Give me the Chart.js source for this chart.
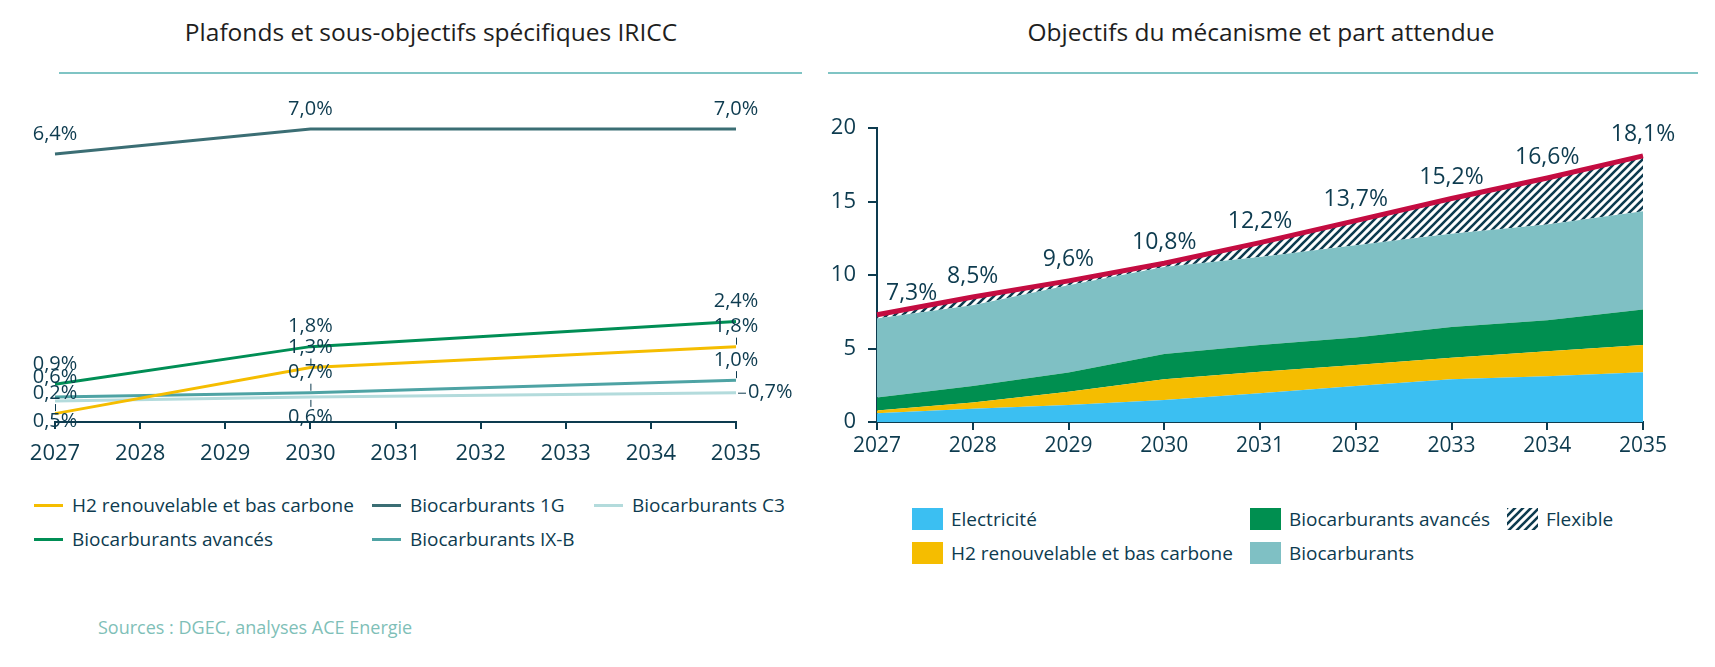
<!DOCTYPE html>
<html lang="fr">
<head>
<meta charset="utf-8">
<title>Plafonds IRICC et objectifs du mécanisme</title>
<script src="https://cdn.jsdelivr.net/npm/chart.js@4.4.1/dist/chart.umd.min.js"></script>
<style>
    html, body { margin: 0; padding: 0; background: #fff; }
    body {
        width: 1715px; height: 667px; position: relative; overflow: hidden;
        font-family: "Open Sans", sans-serif; color: #0d3b4f;
    }
    .title {
        position: absolute; top: 17px; line-height: 30px;
        font-size: 24.5px; color: #1e1e1e; text-align: center;
    }
    .rule { position: absolute; top: 72px; height: 2px; background: #7fc4c4; }
    .chart-box { position: absolute; top: 90px; height: 380px; }
    .legend-item {
        position: absolute; display: flex; align-items: center;
        white-space: nowrap; font-size: 19px; line-height: 22px;
        transform: translateY(-50%);
    }
    .legend-item canvas { display: block; }
    .source {
        position: absolute; left: 98px; top: 615px; line-height: 24px;
        font-size: 18px; color: #7fbfb8;
    }
</style>
</head>
<body>

<div class="title" style="left:0; width:862px;">Plafonds et sous-objectifs spécifiques IRICC</div>
<div class="rule" style="left:59px; width:743px;"></div>
<div class="title" style="left:828px; width:866px;">Objectifs du mécanisme et part attendue</div>
<div class="rule" style="left:828px; width:870px;"></div>

<div class="chart-box" style="left:0; width:800px;"><canvas id="left-chart" width="800" height="380"></canvas></div>
<div class="chart-box" style="left:800px; width:900px;"><canvas id="right-chart" width="900" height="380"></canvas></div>

<div id="left-legend"></div>
<div id="right-legend"></div>

<div class="source">Sources : DGEC, analyses ACE Energie</div>

<script>
// --- Données ---
const YEARS = ['2027', '2028', '2029', '2030', '2031', '2032', '2033', '2034', '2035'];

// Graphique de gauche (%) : valeurs connues aux années clés, segments droits entre elles
const H2_CAP  = [0.2, null, null, 1.3, null, null, null, null, 1.8];
const BIO_1G  = [6.4, null, null, 7.0, null, null, null, null, 7.0];
const BIO_C3  = [0.5, null, null, 0.6, null, null, null, null, 0.7];
const BIO_ADV = [0.9, null, null, 1.8, null, null, null, null, 2.4];
const BIO_IXB = [0.6, null, null, 0.7, null, null, null, null, 1.0];

// Graphique de droite : parts empilées
const ELEC  = [0.60, 0.90, 1.15, 1.50, 1.95, 2.45, 2.90, 3.12, 3.38];
const H2    = [0.18, 0.43, 0.90, 1.40, 1.47, 1.42, 1.47, 1.70, 1.85];
const ADV   = [0.88, 1.12, 1.32, 1.72, 1.81, 1.88, 2.10, 2.10, 2.43];
const BIO   = [5.38, 5.50, 5.93, 5.93, 6.00, 6.27, 6.34, 6.52, 6.67];
const FLEX  = [0.26, 0.55, 0.30, 0.25, 0.97, 1.68, 2.39, 3.16, 3.77];
const TOTAL = [7.3, 8.5, 9.6, 10.8, 12.2, 13.7, 15.2, 16.6, 18.1];

const RIGHT_Y_MAX = 20;
const RIGHT_Y_STEP = 5;

// --- Styles ---
const DARK = '#0d3b4f';
const FONT = '"Open Sans", sans-serif';

const fmt = (v) => v.toFixed(1).replace('.', ',') + '%';

// Motif hachuré pour "Flexible"
const makeHatch = (ctx) => {
    const tile = document.createElement('canvas');
    tile.width = 8;
    tile.height = 8;
    const t = tile.getContext('2d');
    t.fillStyle = '#fff';
    t.fillRect(0, 0, 8, 8);
    t.strokeStyle = DARK;
    t.lineWidth = 2.6;
    t.beginPath();
    t.moveTo(0, 8); t.lineTo(8, 0);
    t.moveTo(-4, 4); t.lineTo(4, -4);
    t.moveTo(4, 12); t.lineTo(12, 4);
    t.stroke();
    return ctx.createPattern(tile, 'repeat');
};

// Étiquettes du graphique de gauche (position au-dessus / en dessous / à droite)
const leftLabels = {
    id: 'leftLabels',
    afterDatasetsDraw(chart) {
        const { ctx } = chart;
        ctx.save();
        ctx.font = '20px ' + FONT;
        ctx.fillStyle = DARK;
        ctx.strokeStyle = DARK;
        ctx.lineWidth = 1;
        ctx.textBaseline = 'middle';
        chart.data.datasets.forEach((ds, i) => {
            const meta = chart.getDatasetMeta(i);
            let k = 0;
            ds.data.forEach((v, j) => {
                if (v === null) return;
                const { x, y } = meta.data[j];
                const pos = ds.labelPos[k];
                const lead = ds.leader[k];
                k++;
                ctx.beginPath();
                if (pos === 'right') {
                    ctx.textAlign = 'left';
                    ctx.fillText(fmt(v), x + 12, y);
                    if (lead) { ctx.moveTo(x + 2, y + 0.5); ctx.lineTo(x + 10, y + 0.5); }
                } else if (pos === 'below') {
                    ctx.textAlign = 'center';
                    ctx.fillText(fmt(v), x, y + 20);
                    if (lead) { ctx.moveTo(x + 0.5, y + 3); ctx.lineTo(x + 0.5, y + 10); }
                } else {
                    ctx.textAlign = 'center';
                    ctx.fillText(fmt(v), x, y - 20);
                    if (lead) { ctx.moveTo(x + 0.5, y - 2); ctx.lineTo(x + 0.5, y - 9); }
                }
                ctx.stroke();
            });
        });
        ctx.restore();
    }
};

// Étiquettes du total (ligne rouge)
const totalLabels = {
    id: 'totalLabels',
    afterDatasetsDraw(chart) {
        const { ctx } = chart;
        ctx.save();
        ctx.font = '23px ' + FONT;
        ctx.fillStyle = DARK;
        ctx.textBaseline = 'middle';
        chart.data.datasets.forEach((ds, i) => {
            if (!ds.totalLabels) return;
            chart.getDatasetMeta(i).data.forEach((pt, j) => {
                // la première étiquette est décalée vers la droite, dans la zone du graphique
                ctx.textAlign = j === 0 ? 'left' : 'center';
                ctx.fillText(fmt(ds.data[j]), j === 0 ? pt.x + 9 : pt.x, pt.y - 21);
            });
        });
        ctx.restore();
    }
};

// --- Graphique de gauche ---
const lineSet = (label, data, color, labelPos, leader) => ({
    label, data, labelPos, leader,
    borderColor: color,
    backgroundColor: color,
    borderWidth: 3,
    pointRadius: 0,
    spanGaps: true,
    tension: 0,
    fill: false
});

const leftChart = new Chart(document.getElementById('left-chart'), {
    type: 'line',
    data: {
        labels: YEARS,
        datasets: [
            lineSet('H2 renouvelable et bas carbone', H2_CAP, '#f5bd00', ['above', 'above', 'above'], [false, true, true]),
            lineSet('Biocarburants 1G', BIO_1G, '#3b6e74', ['above', 'above', 'above'], [false, false, false]),
            lineSet('Biocarburants C3', BIO_C3, '#b3dbdc', ['below', 'below', 'right'], [true, true, true]),
            lineSet('Biocarburants avancés', BIO_ADV, '#008e55', ['above', 'above', 'above'], [false, false, false]),
            lineSet('Biocarburants IX-B', BIO_IXB, '#4ea3a4', ['above', 'above', 'above'], [false, true, true])
        ]
    },
    options: {
        responsive: false,
        animation: false,
        layout: { padding: { left: 55, right: 64, top: 18, bottom: 0 } },
        plugins: { legend: { display: false }, tooltip: { enabled: false } },
        scales: {
            x: {
                grid: { drawOnChartArea: false, tickLength: 7, color: DARK, lineWidth: 2 },
                border: { color: DARK, width: 2 },
                ticks: { color: DARK, font: { family: FONT, size: 22 }, padding: 12, maxRotation: 0, autoSkip: false },
                afterFit: (s) => { s.height = 48; }
            },
            y: { display: false, min: 0, max: 7.5 }
        }
    },
    plugins: [leftLabels]
});

// --- Graphique de droite ---
const rightCanvas = document.getElementById('right-chart');
const hatch = makeHatch(rightCanvas.getContext('2d'));

const areaSet = (label, data, color, fill) => ({
    label, data, fill,
    backgroundColor: color,
    borderColor: color,
    borderWidth: 0,
    pointRadius: 0,
    tension: 0
});

const rightChart = new Chart(rightCanvas, {
    type: 'line',
    data: {
        labels: YEARS,
        datasets: [
            areaSet('Electricité', ELEC, '#3bbff2', 'origin'),
            areaSet('H2 renouvelable et bas carbone', H2, '#f5bd00', '-1'),
            areaSet('Biocarburants avancés', ADV, '#008f50', '-1'),
            areaSet('Biocarburants', BIO, '#7fc0c4', '-1'),
            areaSet('Flexible', FLEX, hatch, '-1'),
            {
                label: 'Objectif',
                data: TOTAL,
                stack: 'total',
                order: -1,
                totalLabels: true,
                borderColor: '#c40c41',
                borderWidth: 5,
                pointRadius: 0,
                fill: false,
                tension: 0
            }
        ]
    },
    options: {
        responsive: false,
        animation: false,
        layout: { padding: { left: 0, right: 57, top: 38, bottom: 0 } },
        plugins: { legend: { display: false }, tooltip: { enabled: false } },
        scales: {
            x: {
                grid: { drawOnChartArea: false, tickLength: 8, color: DARK, lineWidth: 2 },
                border: { color: DARK, width: 2 },
                ticks: { color: DARK, font: { family: FONT, size: 21 }, padding: 3, maxRotation: 0, autoSkip: false },
                afterFit: (s) => { s.height = 48; }
            },
            y: {
                stacked: true,
                min: 0,
                max: RIGHT_Y_MAX,
                grid: { drawOnChartArea: false, tickLength: 9, color: DARK, lineWidth: 2 },
                border: { color: DARK, width: 2 },
                ticks: { stepSize: RIGHT_Y_STEP, color: DARK, font: { family: FONT, size: 22 }, padding: 12 },
                afterFit: (s) => { s.width = 77; }
            }
        }
    },
    plugins: [totalLabels]
});

// --- Légendes HTML, couleurs prises dans les jeux de données ---
const buildLegend = (containerId, chart, items, kind) => {
    const container = document.getElementById(containerId);
    items.forEach(([index, left, top]) => {
        const ds = chart.data.datasets[index];
        const item = document.createElement('div');
        item.className = 'legend-item';
        item.style.left = left + 'px';
        item.style.top = top + 'px';
        const sw = document.createElement('canvas');
        const c = sw.getContext('2d');
        if (kind === 'line') {
            sw.width = 29; sw.height = 3;
            c.fillStyle = ds.borderColor;
            c.fillRect(0, 0, 29, 3);
            sw.style.marginRight = '9px';
        } else {
            sw.width = 31; sw.height = 22;
            c.fillStyle = ds.backgroundColor instanceof CanvasPattern ? makeHatch(c) : ds.backgroundColor;
            c.fillRect(0, 0, 31, 22);
            sw.style.marginRight = '8px';
        }
        item.appendChild(sw);
        const span = document.createElement('span');
        span.textContent = ds.label;
        item.appendChild(span);
        container.appendChild(item);
    });
};

buildLegend('left-legend', leftChart, [[0, 34, 505], [1, 372, 505], [2, 594, 505], [3, 34, 539], [4, 372, 539]], 'line');
buildLegend('right-legend', rightChart, [[0, 912, 519], [2, 1250, 519], [4, 1507, 519], [1, 912, 553], [3, 1250, 553]], 'box');
</script>
</body>
</html>
